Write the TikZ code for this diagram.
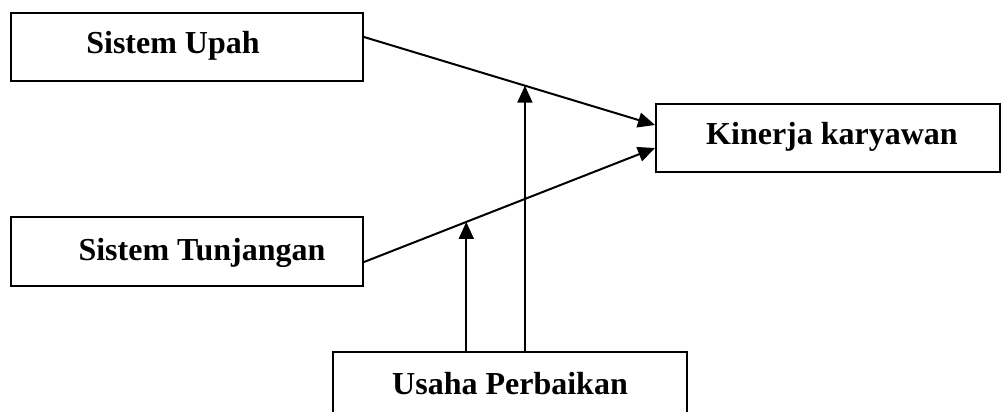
\documentclass[tikz,border=0pt]{standalone}
\usepackage{fontspec}
\setmainfont{Liberation Serif}
\usetikzlibrary{arrows.meta,calc}
\begin{document}
\begin{tikzpicture}[x=1pt,y=-1pt,
  box/.style={draw=black,line width=2pt,minimum width=#1,inner sep=0pt},
  lbl/.style={font=\fontsize{32}{38}\selectfont\bfseries,anchor=base,inner sep=0pt},
  arr/.style={line width=2pt,-{Triangle[length=17pt,width=15pt]}}]
\useasboundingbox (0,0) rectangle (1001,412);
\node[box=352pt,minimum height=68pt] (upah) at (187,47) {};
\node[box=344pt,minimum height=68pt] (kin) at (828,138) {};
\node[box=352pt,minimum height=69pt] (tunj) at (187,251.5) {};
\node[box=354pt,minimum height=100pt] (usaha) at (510,402) {};
\node[lbl] (tupah) at (173,54) {Sistem Upah};
\node[lbl] (tkin) at (832,144) {Kinerja karyawan};
\node[lbl] (ttunj) at (202,260) {Sistem Tunjangan};
\node[lbl] (tusaha) at (510,394) {Usaha Perbaikan};
\coordinate (u1) at ([yshift=10pt]upah.east);
\coordinate (k1) at ([yshift=13pt]kin.west);
\coordinate (t1) at ([yshift=-10.5pt]tunj.east);
\coordinate (k2) at ([yshift=-10pt]kin.west);
\draw[arr] (u1) -- (k1);
\draw[arr] (t1) -- (k2);
\coordinate (m1) at ($(u1)!0.553!(k1)$);
\coordinate (m2) at ($(t1)!0.3515!(k2)$);
\draw[arr] (usaha.north -| m1) -- (m1);
\draw[arr] (usaha.north -| m2) -- (m2);
\end{tikzpicture}
\end{document}
